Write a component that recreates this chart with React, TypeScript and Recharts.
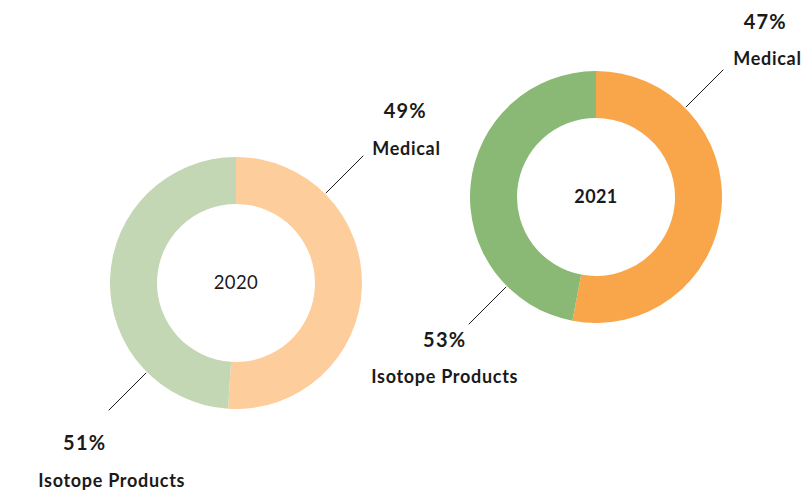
import { PieChart, Pie, Cell } from "recharts";

// slice sizes as drawn, label texts as printed on the chart
const segments = ["Medical", "Isotope Products"];
const years = ["2020", "2021"];
const share2020 = [51, 49];
const share2021 = [53, 47];
const labels2020 = ["49%", "51%"];
const labels2021 = ["47%", "53%"];

const colors2020 = ["#FECD9C", "#C3D7B4"];
const colors2021 = ["#F9A64B", "#8AB975"];

const FONT = "Lato, 'Noto Sans', sans-serif";

type Offsets = {
  right: { name: [number, number]; pct: [number, number] };
  left: { name: [number, number]; pct: [number, number] };
};

const offsets2020: Offsets = {
  right: { name: [9, -1], pct: [42, -38] },
  left: { name: [3, 77], pct: [-24, 40] },
};
const offsets2021: Offsets = {
  right: { name: [10, -5], pct: [42, -41] },
  left: { name: [-24, 59], pct: [-24, 23] },
};

function makeLabel(pcts: string[], off: Offsets) {
  return (props: any) => {
    const { cx, cy, outerRadius, index } = props;
    const right = index === 0;
    const dir = right ? 1 : -1;
    const a = Math.SQRT1_2;
    const r1 = outerRadius + 1;
    const r2 = outerRadius + 54;
    const x1 = cx + dir * r1 * a;
    const y1 = cy - dir * r1 * a;
    const x2 = cx + dir * r2 * a;
    const y2 = cy - dir * r2 * a;
    const o = right ? off.right : off.left;
    return (
      <g key={`lbl-${index}`}>
        <line x1={x1} y1={y1} x2={x2} y2={y2} stroke="#1a1a1a" strokeWidth={1} />
        <text
          x={x2 + o.pct[0]}
          y={y2 + o.pct[1]}
          textAnchor="middle"
          fontFamily={FONT}
          fontWeight={700}
          fontSize={20}
          letterSpacing={1.2}
          fill="#1a1a1a"
        >
          {pcts[index]}
        </text>
        <text
          x={x2 + o.name[0]}
          y={y2 + o.name[1]}
          textAnchor={right ? "start" : "middle"}
          fontFamily={FONT}
          fontWeight={700}
          fontSize={18}
          letterSpacing={0.7}
          fill="#1a1a1a"
        >
          {segments[index]}
        </text>
      </g>
    );
  };
}

export default function App() {
  const data2020 = segments.map((name, i) => ({ name, value: share2020[i] }));
  const data2021 = segments.map((name, i) => ({ name, value: share2021[i] }));

  return (
    <div style={{ position: "absolute", left: 0, top: 0, width: 801, height: 491, background: "#fff" }}>
      <PieChart width={801} height={491} margin={{ top: 0, right: 0, bottom: 0, left: 0 }}>
        <Pie
          data={data2020}
          dataKey="value"
          cx={236}
          cy={283}
          innerRadius={79}
          outerRadius={126}
          startAngle={90}
          endAngle={-270}
          stroke="none"
          labelLine={false}
          label={makeLabel(labels2020, offsets2020)}
          isAnimationActive={false}
        >
          {data2020.map((d, i) => (
            <Cell key={d.name} fill={colors2020[i]} />
          ))}
        </Pie>
        <Pie
          data={data2021}
          dataKey="value"
          cx={596}
          cy={197}
          innerRadius={79}
          outerRadius={126}
          startAngle={90}
          endAngle={-270}
          stroke="none"
          labelLine={false}
          label={makeLabel(labels2021, offsets2021)}
          isAnimationActive={false}
        >
          {data2021.map((d, i) => (
            <Cell key={d.name} fill={colors2021[i]} />
          ))}
        </Pie>
        <text x={236} y={283} dy={6} textAnchor="middle" fontFamily={FONT} fontSize={18.5} letterSpacing={0.4} fill="#1a1a1a">
          {years[0]}
        </text>
        <text x={596} y={197} dy={6} textAnchor="middle" fontFamily={FONT} fontWeight={700} fontSize={18} letterSpacing={0.4} fill="#1a1a1a">
          {years[1]}
        </text>
      </PieChart>
    </div>
  );
}
